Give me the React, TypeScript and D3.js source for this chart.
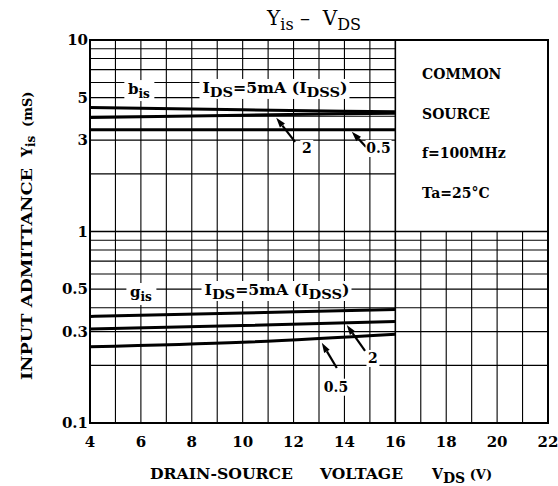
import React from "react";
import * as d3 from "d3";

const vds = [4, 10, 16];
const bis5 = [4.44, 4.32, 4.22];
const bis2 = [3.94, 4.05, 4.15];
const bis05 = [3.4, 3.4, 3.4];
const gis5 = [0.36, 0.375, 0.391];
const gis2 = [0.31, 0.323, 0.339];
const gis05 = [0.25, 0.264, 0.291];
const xTicks = [4, 6, 8, 10, 12, 14, 16, 18, 20, 22];
const yTicks = [0.1, 0.3, 0.5, 1, 3, 5, 10];
const yTickLabels = ["0.1", "0.3", "0.5", "1", "3", "5", "10"];
const conditions = ["COMMON", "SOURCE", "f=100MHz", "Ta=25°C"];

const W = 558, H = 486;
const x = d3.scaleLinear().domain([4, 22]).range([90, 548]);
const y = d3.scaleLog().domain([0.1, 10]).range([423, 40]);
const FONT = "'DejaVu Serif', 'Liberation Serif', serif";

const line = d3
  .line<[number, number]>()
  .x((d) => x(d[0]))
  .y((d) => y(d[1]))
  .curve(d3.curveMonotoneX);

const series = [bis5, bis2, bis05, gis5, gis2, gis05];

function Arrow({ v1, s1, v2, s2 }: { v1: number; s1: number; v2: number; s2: number }) {
  const x1 = x(v1), y1 = y(s1), x2 = x(v2), y2 = y(s2);
  const ang = Math.atan2(y2 - y1, x2 - x1);
  const L = 10, Wd = 3.2;
  const bx = x2 - L * Math.cos(ang), by = y2 - L * Math.sin(ang);
  const px = -Math.sin(ang) * Wd, py = Math.cos(ang) * Wd;
  return (
    <g>
      <line x1={x1} y1={y1} x2={bx} y2={by} stroke="#000" strokeWidth={2.2} />
      <path d={`M${x2},${y2}L${bx + px},${by + py}L${bx - px},${by - py}Z`} fill="#000" />
    </g>
  );
}

function IdsLabel({ v, s }: { v: number; s: number }) {
  const cx = x(v), cy = y(s);
  return (
    <g>
      <rect x={cx - 75} y={cy - 14} width={150} height={20} fill="#fff" />
      <text x={cx - 72} y={cy} fontSize={14} fontFamily={FONT} fontWeight="bold" textLength={145} lengthAdjust="spacingAndGlyphs">
        I<tspan fontSize={13} dy={4}>DS</tspan>
        <tspan dy={-4}>=5mA (I</tspan>
        <tspan fontSize={13} dy={4}>DSS</tspan>
        <tspan dy={-4}>)</tspan>
      </text>
    </g>
  );
}

function NumLabel({ v, s, t, w }: { v: number; s: number; t: string; w: number }) {
  return (
    <g>
      <rect x={x(v) - w / 2} y={y(s) - 13} width={w} height={17} fill="#fff" />
      <text x={x(v)} y={y(s)} fontSize={14} fontWeight="bold" textAnchor="middle">{t}</text>
    </g>
  );
}

export default function App() {
  const grid: React.ReactNode[] = [];
  for (let v = 5; v <= 21; v++) {
    const top = v <= 16 ? y(10) : y(1);
    grid.push(<line key={"v" + v} x1={x(v)} x2={x(v)} y1={top} y2={y(0.1)} stroke="#000" strokeWidth={v === 16 ? 1.6 : 1.1} />);
  }
  for (const dec of [0.1, 1]) {
    for (let k = 2; k <= 9; k++) {
      const val = dec * k;
      const right = dec === 1 ? x(16) : x(22);
      grid.push(<line key={"h" + val} x1={x(4)} x2={right} y1={y(val)} y2={y(val)} stroke="#000" strokeWidth={1.1} />);
    }
  }
  grid.push(<line key="h1" x1={x(4)} x2={x(22)} y1={y(1)} y2={y(1)} stroke="#000" strokeWidth={1.6} />);

  const pts = (arr: number[]) => arr.map((v, i) => [vds[i], v] as [number, number]);

  return (
    <svg width={W} height={H} style={{ position: "absolute", left: 0, top: 0, background: "#fff" }} fontFamily={FONT}>
      <rect x={0} y={0} width={W} height={H} fill="#fff" />
      {grid}
      {/* bis / gis labels */}
      <rect x={x(5.35)} y={y(5.22) - 14} width={30} height={21} fill="#fff" />
      <text x={x(5.49)} y={y(5.22)} fontSize={15} fontWeight="bold">
        b<tspan fontSize={12} dy={4}>is</tspan>
      </text>
      <rect x={x(5.43)} y={y(0.455) - 14} width={30} height={22} fill="#fff" />
      <text x={x(5.57)} y={y(0.455)} fontSize={15} fontWeight="bold">
        g<tspan fontSize={12} dy={4}>is</tspan>
      </text>
      <IdsLabel v={11.25} s={5.29} />
      <IdsLabel v={11.33} s={0.466} />
      {series.map((s, i) => (
        <path key={i} d={line(pts(s)) || ""} fill="none" stroke="#000" strokeWidth={3} />
      ))}
      {/* annotations bis */}
      <Arrow v1={12.06} s1={2.94} v2={11.32} s2={3.93} />
      <NumLabel v={12.52} s={2.57} t="2" w={13} />
      <Arrow v1={14.85} s1={2.76} v2={14.29} s2={3.32} />
      <NumLabel v={15.34} s={2.57} t="0.5" w={26} />
      {/* annotations gis */}
      <Arrow v1={14.81} s1={0.238} v2={14.09} s2={0.325} />
      <NumLabel v={15.12} s={0.2058} t="2" w={13} />
      <Arrow v1={13.7} s1={0.1937} v2={13.11} s2={0.2625} />
      <NumLabel v={13.67} s={0.1457} t="0.5" w={26} />
      {/* conditions box */}
      {conditions.map((c, i) => (
        <text key={c} x={x(17.05)} y={y(10) + 39 + i * 39.5} fontSize={14} fontWeight="bold">{c}</text>
      ))}
      {/* border */}
      <rect x={x(4)} y={y(10)} width={x(22) - x(4)} height={y(0.1) - y(10)} fill="none" stroke="#000" strokeWidth={2} />
      {/* ticks */}
      {xTicks.map((t) => (
        <text key={"xt" + t} x={x(t)} y={447} textAnchor="middle" fontSize={15} fontWeight="bold">{t}</text>
      ))}
      {yTicks.map((t, i) => (
        <text key={"yt" + t} x={x(4) - 2} y={y(t) + 5} textAnchor="end" fontSize={15} fontWeight="bold">{yTickLabels[i]}</text>
      ))}
      {/* title */}
      <text x={314} y={25} textAnchor="middle" fontSize={20}>
        Y<tspan fontSize={16} dy={5}>is</tspan>
        <tspan dy={-5} xmlSpace="preserve">{" –  V"}</tspan>
        <tspan fontSize={16} dy={5}>DS</tspan>
      </text>
      {/* x axis title */}
      <g fontSize={14} fontWeight="bold">
        <text x={150} y={479} textLength={143} lengthAdjust="spacingAndGlyphs">DRAIN-SOURCE</text>
        <text x={320} y={479} textLength={83} lengthAdjust="spacingAndGlyphs">VOLTAGE</text>
        <text x={432} y={479}>
          V<tspan fontSize={14} dy={4}>DS</tspan><tspan dy={-4} fontSize={13}>{" (V)"}</tspan>
        </text>
      </g>
      {/* y axis title */}
      <g fontSize={14} fontWeight="bold">
        <text transform="translate(32,380) rotate(-90)" textLength={212} lengthAdjust="spacingAndGlyphs">INPUT ADMITTANCE</text>
        <text transform="translate(32,157) rotate(-90)">
          Y<tspan fontSize={12} dy={3}>is</tspan>
        </text>
        <text transform="translate(32,127) rotate(-90)" fontSize={13}>(mS)</text>
      </g>
    </svg>
  );
}
